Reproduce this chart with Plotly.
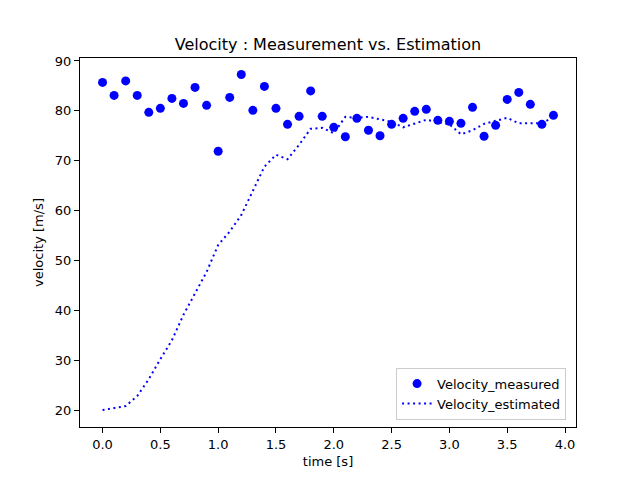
import plotly.graph_objects as go

# tempo de amostragem
t = [round(0.1 * i, 1) for i in range(40)]

# velocidade medida (pontos)
vel_measured = [85.7, 83.1, 86.0, 83.1, 79.7, 80.5, 82.5, 81.5, 84.7, 81.1,
                71.9, 82.7, 87.3, 80.1, 84.9, 80.5, 77.3, 78.9, 84.0, 78.9,
                76.7, 74.8, 78.5, 76.1, 75.0, 77.3, 78.5, 79.9, 80.3, 78.1,
                77.9, 77.5, 80.7, 74.9, 77.1, 82.3, 83.7, 81.3, 77.3, 79.1]

# velocidade estimada (linha pontilhada)
vel_estimated = [20.0, 20.4, 20.8, 22.8, 26.2, 30.2, 34.0, 39.1, 43.4, 47.7,
                 53.1, 55.8, 59.1, 63.8, 68.8, 71.2, 70.3, 73.2, 76.4, 76.6,
                 75.5, 78.8, 78.6, 78.8, 78.3, 77.8, 76.7, 77.5, 78.2, 77.8,
                 77.3, 75.3, 76.1, 77.4, 78.0, 78.6, 77.5, 77.5, 77.5, 78.8]

x_ticks = [0.0, 0.5, 1.0, 1.5, 2.0, 2.5, 3.0, 3.5, 4.0]
y_ticks = [20, 30, 40, 50, 60, 70, 80, 90]

fig = go.Figure()
fig.add_trace(go.Scatter(x=t, y=vel_measured, mode="markers", name="Velocity_measured",
                         marker=dict(color="#0000ff", size=9)))
fig.add_trace(go.Scatter(x=t, y=vel_estimated, mode="lines", name="Velocity_estimated",
                         line=dict(color="#0000ff", width=2, dash="2px,3.5px")))

axis_style = dict(showline=True, linecolor="black", linewidth=1, mirror=True,
                  ticks="outside", ticklen=5, tickcolor="black", showgrid=False,
                  zeroline=False, tickfont=dict(size=13, color="black"))

# a página tem 8px de margem no body, por isso 632x472
fig.update_layout(
    width=632, height=472,
    margin=dict(l=72, r=64, t=50, b=53),
    plot_bgcolor="white", paper_bgcolor="white",
    font=dict(family="DejaVu Sans", color="black", size=13),
    title=dict(text="Velocity : Measurement vs. Estimation", x=0.5, xref="paper",
               xanchor="center", y=1 - 36 / 472, yanchor="middle", font=dict(size=16)),
    xaxis=dict(range=[-0.195, 4.095], tickvals=x_ticks, tickformat=".1f",
               title=dict(text="time [s]", standoff=6, font=dict(size=13)), **axis_style),
    yaxis=dict(range=[16.6, 90.6], tickvals=y_ticks,
               title=dict(text="velocity [m/s]", standoff=8, font=dict(size=13)), **axis_style),
    legend=dict(x=0.98, y=0.02, xanchor="right", yanchor="bottom",
                bordercolor="#cccccc", borderwidth=1, bgcolor="rgba(255,255,255,0.8)",
                font=dict(size=13), tracegroupgap=2),
)

fig.write_html("out.html")
